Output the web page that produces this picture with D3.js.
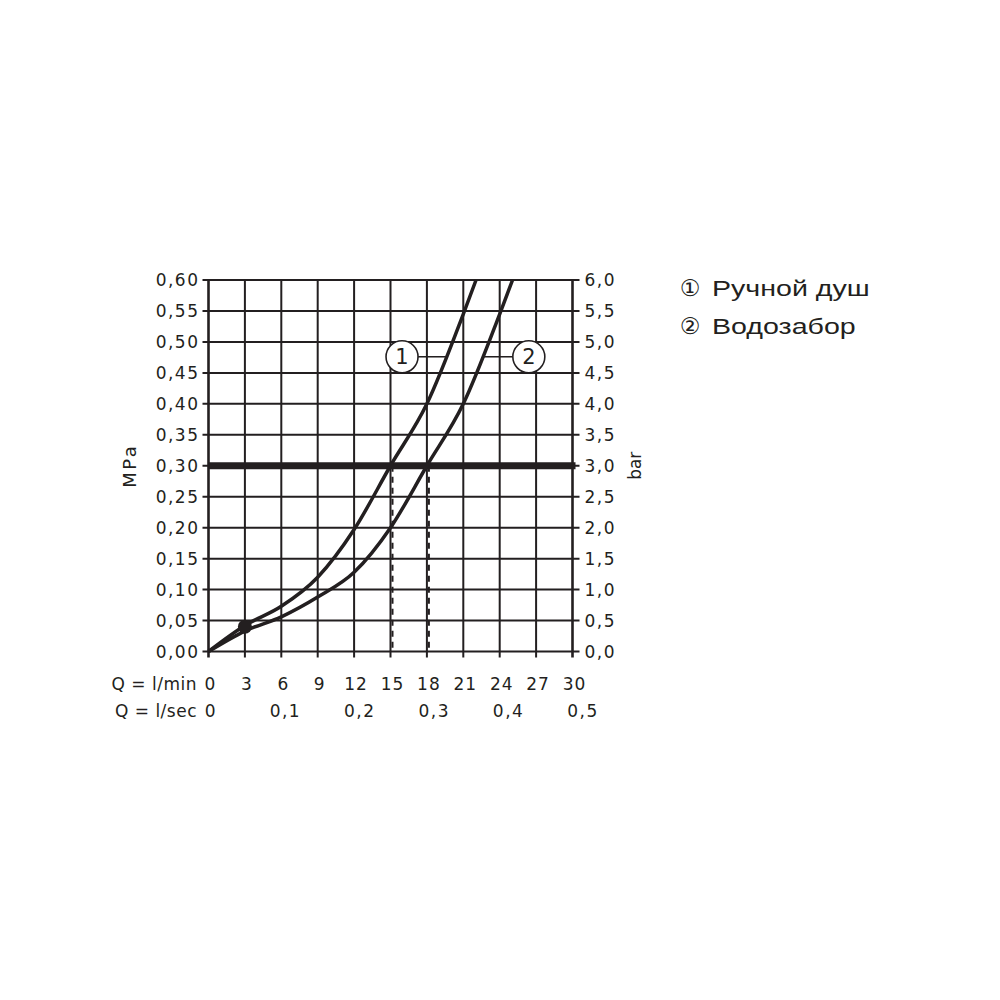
<!DOCTYPE html>
<html>
<head>
<meta charset="utf-8">
<script src="https://cdn.jsdelivr.net/npm/d3@7"></script>
<style>
  body { margin: 0; background: #fff; }
  svg text { fill: #231f20; }
</style>
</head>
<body>
<script>
// flow rate (l/min) and pressure (MPa)
const q1 = [0, 3, 6, 9, 12, 15, 18, 21, 22.05];
const p1 = [0, 0.042, 0.073, 0.12, 0.197, 0.30, 0.40, 0.545, 0.60];
const q2 = [0, 3, 6, 9, 12, 15, 18, 21, 24, 25.06];
const p2 = [0, 0.033, 0.056, 0.088, 0.128, 0.20, 0.30, 0.40, 0.545, 0.60];

const mpaTicks = d3.range(0, 0.601, 0.05);
const barTicks = d3.range(0, 6.01, 0.5);
const minTicks = d3.range(0, 31, 3);
const secTicks = [0, 0.1, 0.2, 0.3, 0.4, 0.5];
const legendNames = ['Ручной душ', 'Водозабор'];
const legendMarks = ['①', '②'];

const workP = 0.30;          // thick reference line
const dropQ = [15, 18];      // dashed lines down from the reference line
const dotPoint = [3, 0.04];
const labelP = 0.476;        // height of the curve numbers
const labelQ = [15.95, 26.4];

const w = 1000, h = 1000;
const svg = d3.select('body').append('svg')
    .attr('width', w)
    .attr('height', h);

const x = d3.scaleLinear().domain([0, 30]).range([208.5, 572.5]);
const xs = d3.scaleLinear().domain([0, 0.5]).range([211, 583]);
const y = d3.scaleLinear().domain([0, 0.6]).range([651.5, 280]);
const yb = d3.scaleLinear().domain([0, 6]).range([651.5, 280]);

const ink = '#231f20';
const font = 'DejaVu Sans, sans-serif';
const comma = d3.format('.2f');

// grid
svg.append('g').selectAll('line')
    .data(minTicks)
    .enter().append('line')
    .attr('x1', d => x(d)).attr('x2', d => x(d))
    .attr('y1', y(0.6)).attr('y2', y(0) + 6)
    .attr('stroke', ink)
    .attr('stroke-width', (d, i) => (i === 0 || i === minTicks.length - 1) ? 2.6 : 2);

svg.append('g').selectAll('line')
    .data(mpaTicks)
    .enter().append('line')
    .attr('x1', x(0) - 6).attr('x2', x(30) + 7)
    .attr('y1', d => y(d)).attr('y2', d => y(d))
    .attr('stroke', ink)
    .attr('stroke-width', 2);

// left axis labels (MPa)
svg.append('g').selectAll('text')
    .data(mpaTicks)
    .enter().append('text')
    .attr('x', x(0) - 9)
    .attr('y', d => y(d))
    .attr('dy', '0.36em')
    .attr('text-anchor', 'end')
    .style('font-family', font)
    .style('font-size', '17px')
    .style('letter-spacing', '1.5px')
    .text(d => comma(d).replace('.', ','));

// right axis labels (bar)
svg.append('g').selectAll('text')
    .data(barTicks)
    .enter().append('text')
    .attr('x', x(30) + 12)
    .attr('y', d => yb(d))
    .attr('dy', '0.36em')
    .style('font-family', font)
    .style('font-size', '17px')
    .style('letter-spacing', '1.5px')
    .text(d => d.toFixed(1).replace('.', ','));

// bottom labels
svg.append('g').selectAll('text')
    .data(minTicks)
    .enter().append('text')
    .attr('x', d => x(d) + 2)
    .attr('y', 690)
    .attr('text-anchor', 'middle')
    .style('font-family', font)
    .style('font-size', '17px')
    .style('letter-spacing', '1px')
    .text(d => d);

svg.append('g').selectAll('text')
    .data(secTicks)
    .enter().append('text')
    .attr('x', d => xs(d))
    .attr('y', 717)
    .attr('text-anchor', 'middle')
    .style('font-family', font)
    .style('font-size', '17px')
    .style('letter-spacing', '1.5px')
    .text(d => d === 0 ? '0' : d.toFixed(1).replace('.', ','));

svg.append('text')
    .attr('x', 197).attr('y', 690)
    .attr('text-anchor', 'end')
    .style('font-family', font).style('font-size', '17px')
    .style('letter-spacing', '0.5px')
    .text('Q = l/min');
svg.append('text')
    .attr('x', 197).attr('y', 717)
    .attr('text-anchor', 'end')
    .style('font-family', font).style('font-size', '17px')
    .style('letter-spacing', '0.5px')
    .text('Q = l/sec');

// axis titles
svg.append('text')
    .attr('transform', `translate(136,${y(0.3)}) rotate(-90)`)
    .attr('text-anchor', 'middle')
    .style('font-family', font).style('font-size', '18px')
    .style('letter-spacing', '2.5px')
    .text('MPa');
svg.append('text')
    .attr('transform', `translate(641,${y(0.3)}) rotate(-90)`)
    .attr('text-anchor', 'middle')
    .style('font-family', font).style('font-size', '17px')
    .text('bar');

// working pressure line
svg.append('line')
    .attr('x1', x(0)).attr('x2', x(30) + 3)
    .attr('y1', y(workP)).attr('y2', y(workP))
    .attr('stroke', ink)
    .attr('stroke-width', 7);

// dashed drop lines
svg.append('g').selectAll('line')
    .data(dropQ)
    .enter().append('line')
    .attr('x1', d => x(d) + 2).attr('x2', d => x(d) + 2)
    .attr('y1', y(workP)).attr('y2', y(0))
    .attr('stroke', ink)
    .attr('stroke-width', 2)
    .attr('stroke-dasharray', '6,5');

// curves
const series = [d3.zip(q1, p1), d3.zip(q2, p2)];
const line = d3.line()
    .x(d => x(d[0]))
    .y(d => y(d[1]))
    .curve(d3.curveMonotoneX);

svg.append('g').selectAll('path')
    .data(series)
    .enter().append('path')
    .attr('d', line)
    .attr('fill', 'none')
    .attr('stroke', ink)
    .attr('stroke-width', 3.5);

svg.append('circle')
    .attr('cx', x(dotPoint[0]))
    .attr('cy', y(dotPoint[1]))
    .attr('r', 7)
    .attr('fill', ink);

// curve numbers with leader lines
function qAt(qs, ps, p) {
  for (let i = 1; i < ps.length; i++) {
    if (ps[i] >= p) {
      const t = (p - ps[i - 1]) / (ps[i] - ps[i - 1]);
      return qs[i - 1] + t * (qs[i] - qs[i - 1]);
    }
  }
  return qs[qs.length - 1];
}
const r = 16;
const cross = [qAt(q1, p1, labelP), qAt(q2, p2, labelP)];

svg.append('g').selectAll('line')
    .data(labelQ)
    .enter().append('line')
    .attr('x1', (d, i) => i === 0 ? x(d) + r : x(d) - r)
    .attr('x2', (d, i) => x(cross[i]))
    .attr('y1', y(labelP)).attr('y2', y(labelP))
    .attr('stroke', ink)
    .attr('stroke-width', 1.5);

const marks = svg.append('g').selectAll('g')
    .data(labelQ)
    .enter().append('g')
    .attr('transform', d => `translate(${x(d)},${y(labelP)})`);

marks.append('circle')
    .attr('r', r)
    .attr('fill', '#fff')
    .attr('stroke', ink)
    .attr('stroke-width', 1.6);

marks.append('text')
    .attr('text-anchor', 'middle')
    .attr('dy', '0.36em')
    .style('font-family', font)
    .style('font-size', '21px')
    .text((d, i) => i + 1);

// legend
const legend = svg.append('g').selectAll('g')
    .data(legendNames)
    .enter().append('g')
    .attr('transform', (d, i) => `translate(690,${288 + i * 38})`);

legend.append('text')
    .attr('text-anchor', 'middle')
    .attr('dy', '0.36em')
    .style('font-family', 'DejaVu Sans, sans-serif')
    .style('font-size', '23px')
    .text((d, i) => legendMarks[i]);

legend.append('text')
    .attr('transform', 'translate(22,0) scale(1.3,1)')
    .attr('dy', '0.36em')
    .style('font-family', 'Liberation Sans, Arial, sans-serif')
    .style('font-size', '22px')
    .text(d => d);
</script>
</body>
</html>
